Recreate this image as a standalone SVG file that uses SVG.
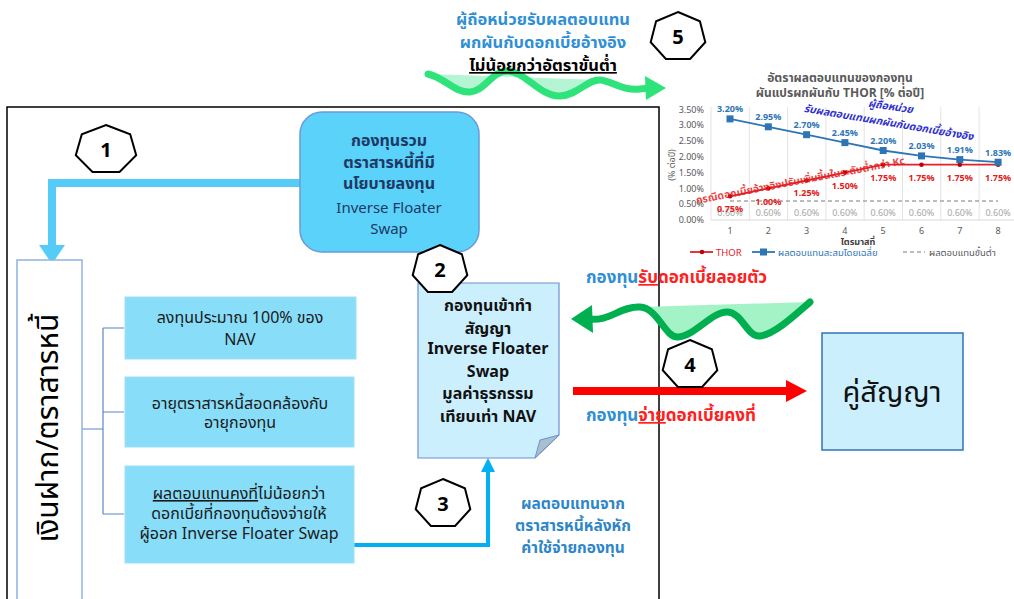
<svg xmlns="http://www.w3.org/2000/svg" width="1014" height="599" viewBox="0 0 1014 599">
<defs>
<style>
text{font-family:'Noto Sans Thai','Leelawadee UI',Tahoma,'Noto Sans','DejaVu Sans',sans-serif}
.hep{fill:#fff;stroke:#000;stroke-width:2}
.num{font-size:20px;font-weight:bold;text-anchor:middle;fill:#000}
.bx{fill:#88DDF9;stroke:#9fe0f7;stroke-width:1}
.bt{font-size:16px;fill:#1a1a1a;text-anchor:middle}
.ax{font-size:9px;fill:#595959}
.bl{font-size:9px;font-weight:bold;fill:#2E75B6;text-anchor:middle}
.rl{font-size:9px;font-weight:bold;fill:#E02020;text-anchor:middle}
.gl{font-size:9px;fill:#A6A6A6;text-anchor:middle}
.grid{stroke:#E3E3E3;stroke-width:1}
</style>
</defs>
<rect width="1014" height="599" fill="#fff"/>

<!-- outer frame -->
<path d="M7,610 L7,107 L659,107 L659,610" fill="none" stroke="#000" stroke-width="1.5"/>

<g id="connectors">
  <path d="M302,183 L52,183 L52,247" fill="none" stroke="#55CBF7" stroke-width="8"/>
  <polygon points="39,245 65,245 52,264" fill="#55CBF7"/>
  <path d="M82,429 L103,429 M103,328 L103,514 M103,328 L124,328 M103,412 L124,412 M103,514 L124,514" fill="none" stroke="#5B86C5" stroke-width="1.2"/>
  <path d="M354,545 L488,545 L488,470" fill="none" stroke="#00B0F0" stroke-width="4"/>
  <polygon points="481,472 495,472 488,458" fill="#00B0F0"/>
  <line x1="573" y1="391" x2="790" y2="391" stroke="#FF0000" stroke-width="8"/>
  <polygon points="786,380 807,391 786,402" fill="#FF0000"/>
  <path d="M640,307 L810,302 C795,315 775,334 760,336 C748,338 742,313 728,312 C712,311 695,336 678,337 C665,338 658,308 640,307 Z" fill="#A3F3C7"/>
  <path d="M588,319 C610,322 620,306 640,307 C658,308 665,338 678,337 C695,336 712,311 728,312 C742,313 748,338 760,336 C775,334 795,315 810,302" fill="none" stroke="#00B050" stroke-width="7" stroke-linecap="round"/>
  <polygon points="571,319 592,305 593,333" fill="#00B050"/>
  <path d="M428,74 L600,80 C588,79 578,95 560,96 C540,97 525,71 507,71 C492,71 485,91 470,92 C455,93 445,78 428,74 Z" fill="#B5F5D3"/>
  <path d="M428,74 C445,78 455,93 470,92 C485,91 492,71 507,71 C525,71 540,97 560,96 C578,95 588,79 600,80 C612,81 622,91 640,89 L650,88" fill="none" stroke="#2EE37A" stroke-width="7" stroke-linecap="round"/>
  <polygon points="645,76 666,88 646,100" fill="#2EE37A"/>
</g>

<g id="label-top">
  <text x="543" y="25" font-size="16.5" font-weight="bold" fill="#2F8FD5" text-anchor="middle">ผู้ถือหน่วยรับผลตอบแทน</text>
  <text x="543" y="48" font-size="16.5" font-weight="bold" fill="#2F8FD5" text-anchor="middle">ผกผันกับดอกเบี้ยอ้างอิง</text>
  <text x="543" y="71" font-size="16.5" font-weight="bold" fill="#000" text-anchor="middle" text-decoration="underline">ไม่น้อยกว่าอัตราขั้นต่ำ</text>
</g>
<g id="label-receive">
  <text x="586" y="283" font-size="17" font-weight="bold"><tspan fill="#2F8FD5">กองทุน</tspan><tspan fill="#FF2020" text-decoration="underline">รับ</tspan><tspan fill="#FF2020">ดอกเบี้ยลอยตัว</tspan></text>
</g>
<g id="label-pay">
  <text x="586" y="421" font-size="17" font-weight="bold"><tspan fill="#2F8FD5">กองทุน</tspan><tspan fill="#FF2020" text-decoration="underline">จ่าย</tspan><tspan fill="#FF2020">ดอกเบี้ยคงที่</tspan></text>
</g>
<g id="label-return">
  <text x="573" y="509" font-size="15.5" font-weight="bold" fill="#2E86C9" text-anchor="middle">ผลตอบแทนจาก</text>
  <text x="573" y="531" font-size="15.5" font-weight="bold" fill="#2E86C9" text-anchor="middle">ตราสารหนี้หลังหัก</text>
  <text x="573" y="553" font-size="15.5" font-weight="bold" fill="#2E86C9" text-anchor="middle">ค่าใช้จ่ายกองทุน</text>
</g>

<g id="node-fund">
  <rect x="300" y="112" width="179" height="140" rx="22" fill="#5AD2FA" stroke="#6A9BD8" stroke-width="1.5"/>
  <text x="389" y="146" font-size="16" font-weight="bold" fill="#1F3864" text-anchor="middle">กองทุนรวม</text>
  <text x="389" y="168" font-size="16" font-weight="bold" fill="#1F3864" text-anchor="middle">ตราสารหนี้ที่มี</text>
  <text x="389" y="189" font-size="16" font-weight="bold" fill="#1F3864" text-anchor="middle">นโยบายลงทุน</text>
  <text x="389" y="213" font-size="15" fill="#1F3864" text-anchor="middle">Inverse Floater</text>
  <text x="389" y="234" font-size="15" fill="#1F3864" text-anchor="middle">Swap</text>
</g>

<g id="node-deposit">
  <rect x="17" y="260" width="65" height="350" fill="#fff" stroke="#8DB4E2" stroke-width="1.5"/>
  <text transform="translate(58,428) rotate(-90)" font-size="30" fill="#000" text-anchor="middle">เงินฝาก/ตราสารหนี้</text>
</g>

<g id="node-a">
  <rect x="125" y="297" width="231" height="62" class="bx"/>
  <text x="240" y="323" class="bt">ลงทุนประมาณ 100% ของ</text>
  <text x="240" y="345" class="bt">NAV</text>
</g>
<g id="node-b">
  <rect x="125" y="377" width="229" height="70" class="bx"/>
  <text x="240" y="409" class="bt" font-size="15.5">อายุตราสารหนี้สอดคล้องกับ</text>
  <text x="240" y="428" class="bt" font-size="15.5">อายุกองทุน</text>
</g>
<g id="node-c">
  <rect x="125" y="466" width="229" height="97" class="bx"/>
  <text x="239" y="499" class="bt" font-size="15.5"><tspan text-decoration="underline">ผลตอบแทนคงที่</tspan>ไม่น้อยกว่า</text>
  <text x="239" y="519" class="bt" font-size="15.5">ดอกเบี้ยที่กองทุนต้องจ่ายให้</text>
  <text x="239" y="539" class="bt" font-size="15.5">ผู้ออก Inverse Floater Swap</text>
</g>

<g id="node-swap">
  <path d="M418,283 L559,283 L559,435 L535,458 L418,458 Z" fill="#CCEFFD" stroke="#6E8FD0" stroke-width="1.2"/>
  <path d="M535,458 L540,440 L559,435 Z" fill="#A9C0CC" stroke="#6E8FD0" stroke-width="1"/>
  <text x="488" y="311" font-size="16" font-weight="bold" fill="#111" text-anchor="middle">กองทุนเข้าทำ</text>
  <text x="488" y="334" font-size="16" font-weight="bold" fill="#111" text-anchor="middle">สัญญา</text>
  <text x="488" y="354" font-size="16" font-weight="bold" fill="#111" text-anchor="middle">Inverse Floater</text>
  <text x="488" y="377" font-size="16" font-weight="bold" fill="#111" text-anchor="middle">Swap</text>
  <text x="488" y="399" font-size="16" font-weight="bold" fill="#111" text-anchor="middle">มูลค่าธุรกรรม</text>
  <text x="488" y="422" font-size="16" font-weight="bold" fill="#111" text-anchor="middle">เทียบเท่า NAV</text>
</g>

<g id="node-counterparty">
  <rect x="822" y="333" width="141" height="117" fill="#CCEFFD" stroke="#2E75B6" stroke-width="1.5"/>
  <text x="892" y="402" font-size="29" fill="#111" text-anchor="middle">คู่สัญญา</text>
</g>

<g id="step-1">
  <polygon class="hep" points="106,125 130.2,134.3 136.2,155.2 119.5,172 92.5,172 75.8,155.2 81.8,134.3"/>
  <text x="106" y="157" class="num">1</text>
</g>
<g id="step-2">
  <polygon class="hep" points="440,245 461.9,254.3 467.3,275.2 452.1,292 427.9,292 412.7,275.2 418.1,254.3"/>
  <text x="440" y="277" class="num">2</text>
</g>
<g id="step-3">
  <polygon class="hep" points="443,479 464.9,488.3 470.3,509.2 455.1,526 430.9,526 415.7,509.2 421.1,488.3"/>
  <text x="443" y="511" class="num">3</text>
</g>
<g id="step-4">
  <polygon class="hep" points="690,340 711.9,349.3 717.3,370.2 702.1,387 677.9,387 662.7,370.2 668.1,349.3"/>
  <text x="690" y="372" class="num">4</text>
</g>
<g id="step-5">
  <polygon class="hep" points="678,12 699.9,21.3 705.3,42.2 690.1,59 665.9,59 650.7,42.2 656.1,21.3"/>
  <text x="678" y="44" class="num">5</text>
</g>

<g id="chart">
  <text x="840" y="82" font-size="12" font-weight="bold" fill="#595959" text-anchor="middle">อัตราผลตอบแทนของกองทุน</text>
  <text x="840" y="97" font-size="12" font-weight="bold" fill="#595959" text-anchor="middle">ผันแปรผกผันกับ THOR [% ต่อปี]</text>
  <g class="grid">
    <line x1="711" y1="107" x2="711" y2="220"/>
    <line x1="749.3" y1="107" x2="749.3" y2="220"/>
    <line x1="787.6" y1="107" x2="787.6" y2="220"/>
    <line x1="825.9" y1="107" x2="825.9" y2="220"/>
    <line x1="864.2" y1="107" x2="864.2" y2="220"/>
    <line x1="902.5" y1="107" x2="902.5" y2="220"/>
    <line x1="940.8" y1="107" x2="940.8" y2="220"/>
    <line x1="979.1" y1="107" x2="979.1" y2="220"/>
    <line x1="711" y1="220" x2="1014" y2="220" stroke="#D9D9D9"/>
  </g>
  <g class="ax" text-anchor="end">
    <text x="704" y="112.5">3.50%</text>
    <text x="704" y="128.3">3.00%</text>
    <text x="704" y="144.1">2.50%</text>
    <text x="704" y="159.9">2.00%</text>
    <text x="704" y="175.7">1.50%</text>
    <text x="704" y="191.5">1.00%</text>
    <text x="704" y="207.3">0.50%</text>
    <text x="704" y="223.1">0.00%</text>
  </g>
  <text transform="translate(675,165) rotate(-90)" class="ax" text-anchor="middle" font-size="8.5">(% ต่อปี)</text>
  <g class="ax" text-anchor="middle">
    <text x="730" y="234">1</text>
    <text x="768.3" y="234">2</text>
    <text x="806.6" y="234">3</text>
    <text x="844.9" y="234">4</text>
    <text x="883.2" y="234">5</text>
    <text x="921.5" y="234">6</text>
    <text x="959.8" y="234">7</text>
    <text x="998.1" y="234">8</text>
  </g>
  <text x="858" y="245" font-size="9" font-weight="bold" fill="#404040" text-anchor="middle">ไตรมาสที่</text>
  <line x1="730" y1="201" x2="998" y2="201" stroke="#A6A6A6" stroke-width="1.5" stroke-dasharray="4,3"/>
  <g class="gl">
    <text x="730" y="216">0.60%</text>
    <text x="768.3" y="216">0.60%</text>
    <text x="806.6" y="216">0.60%</text>
    <text x="844.9" y="216">0.60%</text>
    <text x="883.2" y="216">0.60%</text>
    <text x="921.5" y="216">0.60%</text>
    <text x="959.8" y="216">0.60%</text>
    <text x="998.1" y="216">0.60%</text>
  </g>
  <polyline points="730,196.3 768.3,188.4 806.6,180.5 844.9,172.6 883.2,164.7 921.5,164.7 959.8,164.7 998.1,164.7" fill="none" stroke="#E0202A" stroke-width="1.8"/>
  <g fill="#C00000">
    <circle cx="730" cy="196.3" r="2.3"/><circle cx="768.3" cy="188.4" r="2.3"/><circle cx="806.6" cy="180.5" r="2.3"/><circle cx="844.9" cy="172.6" r="2.3"/><circle cx="883.2" cy="164.7" r="2.3"/><circle cx="921.5" cy="164.7" r="2.3"/><circle cx="959.8" cy="164.7" r="2.3"/><circle cx="998.1" cy="164.7" r="2.3"/>
  </g>
  <g class="rl">
    <text x="730" y="212">0.75%</text>
    <text x="768.3" y="204.5">1.00%</text>
    <text x="806.6" y="196">1.25%</text>
    <text x="844.9" y="188.5">1.50%</text>
    <text x="883.2" y="180.5">1.75%</text>
    <text x="921.5" y="180.5">1.75%</text>
    <text x="959.8" y="180.5">1.75%</text>
    <text x="998.1" y="180.5">1.75%</text>
  </g>
  <polyline points="730,118.9 768.3,126.8 806.6,134.7 844.9,142.6 883.2,150.5 921.5,155.9 959.8,159.6 998.1,162.2" fill="none" stroke="#2E75B6" stroke-width="1.8"/>
  <g fill="#2E75B6">
    <rect x="726.5" y="115.4" width="7" height="7"/><rect x="764.8" y="123.3" width="7" height="7"/><rect x="803.1" y="131.2" width="7" height="7"/><rect x="841.4" y="139.1" width="7" height="7"/><rect x="879.7" y="147" width="7" height="7"/><rect x="918" y="152.4" width="7" height="7"/><rect x="956.3" y="156.1" width="7" height="7"/><rect x="994.6" y="158.7" width="7" height="7"/>
  </g>
  <g class="bl">
    <text x="730" y="112">3.20%</text>
    <text x="768.3" y="120">2.95%</text>
    <text x="806.6" y="128">2.70%</text>
    <text x="844.9" y="136">2.45%</text>
    <text x="883.2" y="144">2.20%</text>
    <text x="921.5" y="149">2.03%</text>
    <text x="959.8" y="153">1.91%</text>
    <text x="998.1" y="155.5">1.83%</text>
  </g>
  <text transform="translate(890,110) rotate(8)" font-size="10.5" font-weight="bold" font-style="italic" fill="#3030D0" text-anchor="middle">ผู้ถือหน่วย</text>
  <text transform="translate(888,126) rotate(9.6)" font-size="10.5" font-weight="bold" font-style="italic" fill="#3030D0" text-anchor="middle">รับผลตอบแทนผกผันกับดอกเบี้ยอ้างอิง</text>
  <text transform="translate(801,184) rotate(-10.8)" font-size="10.5" font-weight="bold" fill="#E82020" fill-opacity="0.85" text-anchor="middle">กรณีดอกเบี้ยอ้างอิงปรับเพิ่มขึ้นในระดับต่ำกว่า Kc</text>
  <line x1="690" y1="252" x2="713" y2="252" stroke="#E0202A" stroke-width="1.8"/>
  <circle cx="702" cy="252" r="2.3" fill="#C00000"/>
  <text x="716" y="255.5" font-size="9.5" fill="#E0202A">THOR</text>
  <line x1="752" y1="252" x2="775" y2="252" stroke="#2E75B6" stroke-width="1.8"/>
  <rect x="760" y="248.5" width="7" height="7" fill="#2E75B6"/>
  <text x="778" y="255.5" font-size="9.5" fill="#2E75B6">ผลตอบแทนสะสมโดยเฉลี่ย</text>
  <line x1="903" y1="252" x2="925" y2="252" stroke="#A6A6A6" stroke-width="1.5" stroke-dasharray="4,3"/>
  <text x="929" y="255.5" font-size="9.5" fill="#595959">ผลตอบแทนขั้นต่ำ</text>
</g>
</svg>
